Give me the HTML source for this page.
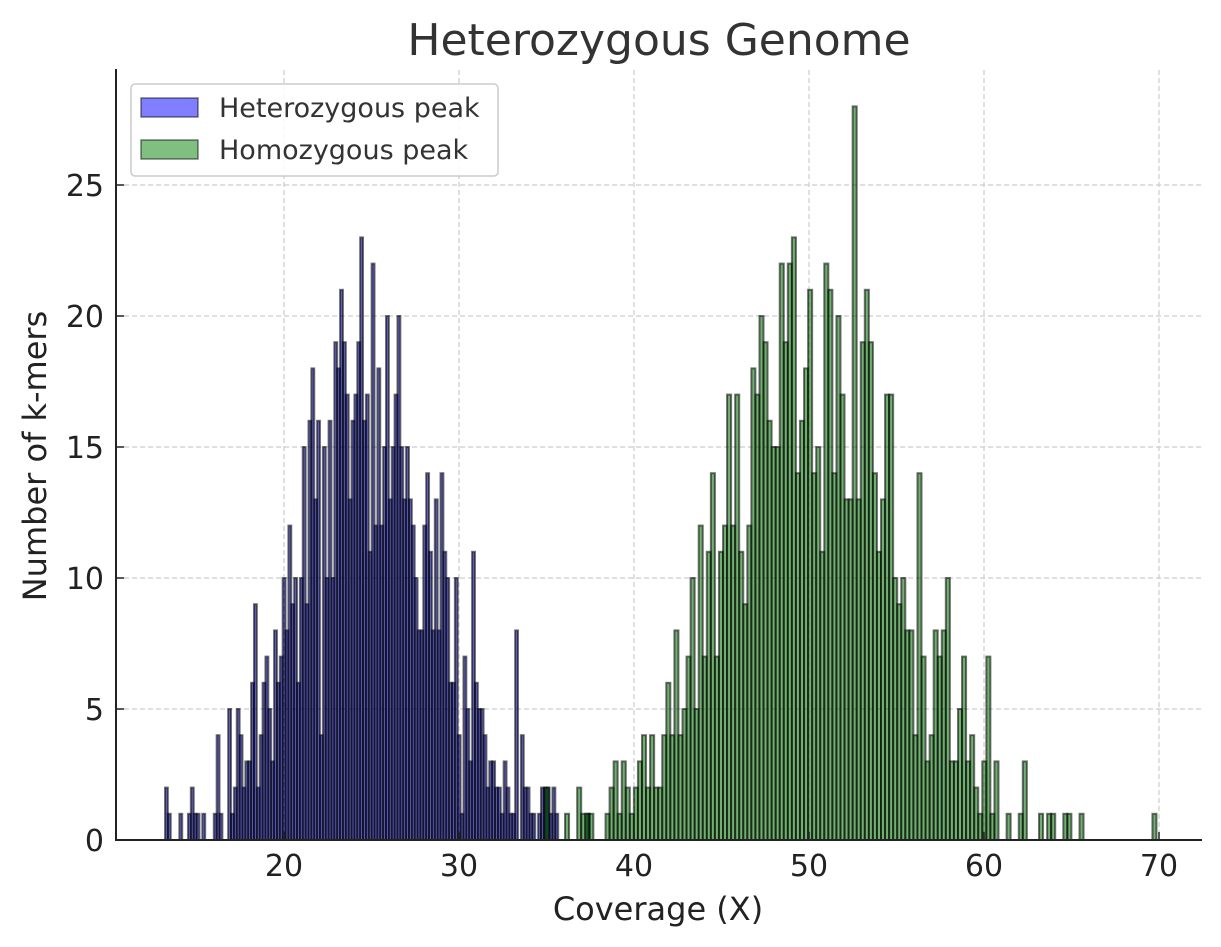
<!DOCTYPE html>
<html><head><meta charset="utf-8"><style>
html,body{margin:0;padding:0;background:#fff;}
svg{display:block;font-family:"DejaVu Sans","Liberation Sans",sans-serif;}
</style></head><body>
<svg id="chart" width="1221" height="947" viewBox="0 0 1221 947">
<g id="grid"></g>
<g id="bars"></g>
<g id="axes"></g>
<text x="659" y="55" text-anchor="middle" font-size="44" fill="#333">Heterozygous Genome</text>
<text x="658" y="920" text-anchor="middle" font-size="32" fill="#222">Coverage (X)</text>
<text transform="translate(46,456) rotate(-90)" text-anchor="middle" font-size="32" fill="#222">Number of k-mers</text>
<g>
<rect x="131" y="84" width="367" height="92" rx="4" fill="#fff" fill-opacity="0.85" stroke="#ccc" stroke-width="1.5"/>
<g>
<rect x="141" y="98" width="57" height="19" fill="rgba(0,0,255,0.5)" stroke="rgba(0,0,0,0.5)" stroke-width="1.5"/>
<text x="219" y="117" font-size="27" fill="#333">Heterozygous peak</text>
</g>
<g>
<rect x="141" y="140" width="57" height="19" fill="rgba(0,128,0,0.5)" stroke="rgba(0,0,0,0.5)" stroke-width="1.5"/>
<text x="219" y="159" font-size="27" fill="#333">Homozygous peak</text>
</g>
</g>
</svg>
<script>
const hetStart = 13.2;
const hetWidth = 0.164;
const hetCounts = [2,1,0,0,0,1,0,0,1,2,1,1,0,1,0,0,0,
1,4,1,0,0,5,1,2,5,4,2,3,3,6,
9,2,4,6,7,5,3,8,6,7,10,8,12,9,10,6,10,15,9,16,18,13,16,4,15,10,16,10,19,18,21,19,17,13,16,17,19,23,
16,17,11,22,12,18,12,15,20,13,15,17,20,15,13,15,13,12,10,8,8,12,14,11,8,13,8,14,11,10,6,6,10,4,1,7,5,3,11,6,5,5,4,2,3,3,2,2,1,3,2,1,1,
8,0,4,2,2,1,1,0,1,2,2,2,1,2,1,0,0,0,0,0,0,0,0,0,0,1,0,0];
const homStart = 34.9;
const homWidth = 0.2315;
const homCounts = [2,0,0,0,0,1,0,0,2,1,1,1,0,0,0,1,2,3,1,3,2,1,2,3,4,2,4,2,2,4,6,4,8,
4,5,7,10,5,12,7,11,14,7,11,12,17,12,17,11,9,12,18,17,20,19,16,15,15,22,19,22,23,14,16,18,21,14,15,11,22,21,14,20,17,13,13,28,13,19,21,19,14,11,13,17,17,10,9,10,8,8,4,14,7,
3,4,8,7,8,10,3,3,5,7,3,4,2,1,3,7,1,3,0,0,1,0,0,1,3,0,0,0,1,0,1,1,0,0,1,1,0,0,1,0,0,0,0,0,0,0,0,0,0,0,0,0,0,0,0,0,1];
const xTicks = [20,30,40,50,60,70];
const yTicks = [0,5,10,15,20,25];

const NS = "http://www.w3.org/2000/svg";
function xs(v){ return 284 + (v - 20) * 17.5; }
function ys(v){ return 840 - v * 26.2; }
function mk(tag, attrs, parent){
  const e = document.createElementNS(NS, tag);
  for (const k in attrs) e.setAttribute(k, attrs[k]);
  parent.appendChild(e);
  return e;
}
const grid = document.getElementById('grid');
const bars = document.getElementById('bars');
const axes = document.getElementById('axes');
xTicks.forEach(t => {
  const l = mk('line', {x1:xs(t), x2:xs(t), y1:70, y2:840, stroke:'#ccc', 'stroke-width':1.2, 'stroke-dasharray':'5,3'}, grid);
  
  
});
yTicks.forEach(t => {
  if (t === 0) return;
  const l = mk('line', {x1:116, x2:1201, y1:ys(t), y2:ys(t), stroke:'#ccc', 'stroke-width':1.2, 'stroke-dasharray':'5,3'}, grid);
  
  
});
function drawSeries(counts, start, width, fill, name){
  counts.forEach((c, i) => {
    if (c <= 0) return;
    const x0 = xs(start + i * width), x1 = xs(start + (i + 1) * width);
    const r = mk('rect', {x:x0, y:ys(c), width:x1 - x0, height:840 - ys(c), fill:fill, stroke:'rgba(0,0,0,0.55)', 'stroke-width':2}, bars);
    
    
  });
}
drawSeries(hetCounts, hetStart, hetWidth, 'rgba(0,0,150,0.6)', 'heterozygous-bar');
drawSeries(homCounts, homStart, homWidth, 'rgba(0,110,0,0.55)', 'homozygous-bar');

const sl = mk('line', {x1:116, x2:116, y1:69, y2:841, stroke:'#222', 'stroke-width':2}, axes);


const sb = mk('line', {x1:115, x2:1202, y1:840, y2:840, stroke:'#222', 'stroke-width':2}, axes);


xTicks.forEach(t => {
  const tk = mk('line', {x1:xs(t), x2:xs(t), y1:840, y2:832, stroke:'#222', 'stroke-width':1.5}, axes);
  
  
  const tx = mk('text', {x:xs(t), y:876, 'text-anchor':'middle', 'font-size':30, fill:'#222'}, axes);
  tx.textContent = t;
  
  
});
yTicks.forEach(t => {
  const tk = mk('line', {x1:116, x2:124, y1:ys(t), y2:ys(t), stroke:'#222', 'stroke-width':1.5}, axes);
  
  
  const tx = mk('text', {x:104, y:ys(t) + 11, 'text-anchor':'end', 'font-size':30, fill:'#222'}, axes);
  tx.textContent = t;
  
  
});
</script>
</body></html>
